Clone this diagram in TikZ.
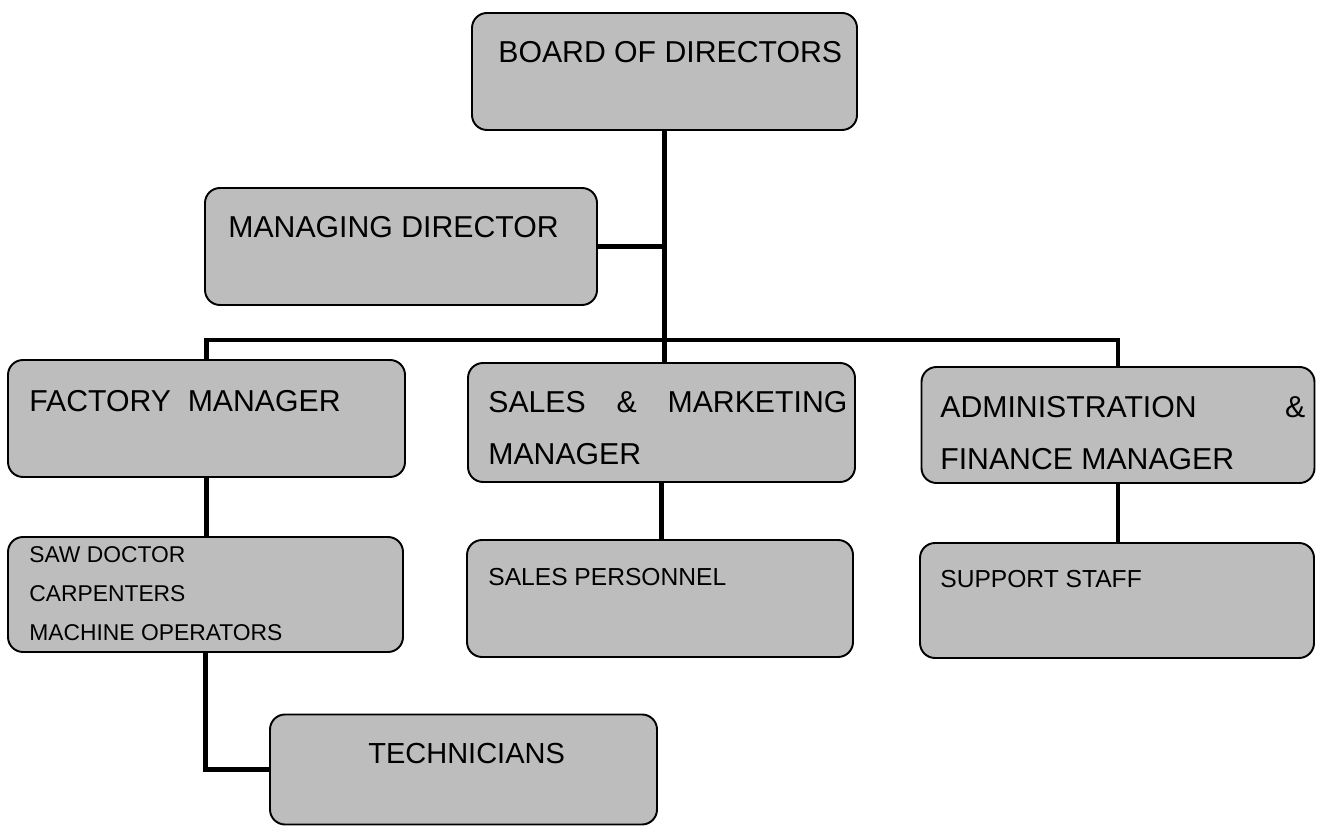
\documentclass[tikz,border=0pt]{standalone}
\usepackage{fontspec}
\setmainfont{Liberation Sans}
\usetikzlibrary{positioning}
\definecolor{boxgray}{gray}{0.74}

\begin{document}
\begin{tikzpicture}[office/.style={draw, fill=boxgray, rounded corners=0.3cm, line width=1.1pt, inner sep=0pt, minimum height=2.34cm},
  word/.style={anchor=base west, inner sep=0pt, font=\fontsize{17.2}{20}\selectfont},
  conn/.style={line width=2.3pt}]
\useasboundingbox (0,0) rectangle (26.36,16.54);

\node[office, minimum width=7.70cm] (board) at (13.29,15.11) {};
\node[office, minimum width=7.84cm] (md) at (8.02,11.61) {};
\node[office, minimum width=7.94cm] (fm) at (4.13,8.17) {};
\node[office, minimum width=7.74cm, minimum height=2.38cm] (sm) at (13.23,8.09) {};
\node[office, minimum width=7.86cm, minimum height=2.32cm] (af) at (22.36,8.04) {};
\node[office, minimum width=7.90cm, minimum height=2.30cm] (saw) at (4.11,4.65) {};
\node[office, minimum width=7.72cm] (sp) at (13.20,4.57) {};
\node[office, minimum width=7.88cm, minimum height=2.30cm] (ss) at (22.34,4.53) {};
\node[office, minimum width=7.74cm, minimum height=2.20cm] (tech) at (9.27,1.15) {};

\node[word] (boardtxt) at (9.96,15.28) {BOARD OF DIRECTORS};
\node[word] (mdtxt) at (4.56,11.78) {MANAGING DIRECTOR};
\node[word] (fmtxt) at (0.58,8.30) {FACTORY\ \ MANAGER};
\node[word] (smtxta) at (9.76,8.28) {\makebox[7.18cm][s]{SALES \& MARKETING}};
\node[word] (smtxtb) at (9.76,7.24) {MANAGER};
\node[word] (aftxta) at (18.80,8.18) {\makebox[7.30cm][s]{ADMINISTRATION \&}};
\node[word] (aftxtb) at (18.80,7.14) {FINANCE MANAGER};
\node[word, font=\fontsize{13}{15}\selectfont] (sawtxta) at (0.58,5.28) {SAW DOCTOR};
\node[word, font=\fontsize{13}{15}\selectfont] (sawtxtb) at (0.58,4.50) {CARPENTERS};
\node[word, font=\fontsize{13}{15}\selectfont] (sawtxtc) at (0.58,3.72) {MACHINE OPERATORS};
\node[word, font=\fontsize{14}{16}\selectfont] (sptxt) at (9.76,4.82) {SALES PERSONNEL};
\node[word, font=\fontsize{14}{16}\selectfont] (sstxt) at (18.80,4.78) {SUPPORT STAFF};
\node[word, font=\fontsize{16.5}{19}\selectfont] (techtxt) at (7.36,1.28) {TECHNICIANS};

% connectors
\coordinate (bus) at (13.29,9.74);
\draw[conn] (board.south) -- (board.south |- sm.north);
\draw[conn] (fm.north) |- (bus) -| (af.north);
\draw[conn] (md.east) -- (md.east -| board.south);
\draw[conn] (fm.south) -- (fm.south |- saw.north);
\draw[conn] (sm.south) -- (sm.south |- sp.north);
\draw[conn] (af.south) -- (af.south |- ss.north);
\draw[conn] (saw.south) |- (tech.west);
\end{tikzpicture}
\end{document}
